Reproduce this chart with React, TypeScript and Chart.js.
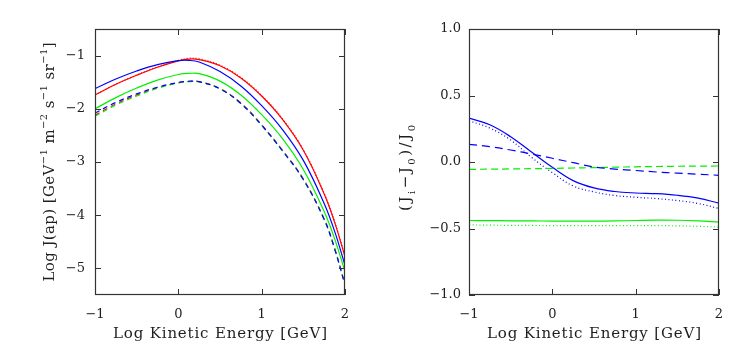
import React, { useEffect, useRef } from 'react';
import { Chart, registerables } from 'chart.js';

Chart.register(...registerables);

// ---------- data: left panel (Log J) ----------
const leftX = [-1, -0.75, -0.5, -0.25, 0, 0.125, 0.25, 0.5, 0.75, 1, 1.25, 1.5, 1.75, 1.875, 2];
const leftRedSolid = [-1.74, -1.54, -1.37, -1.22, -1.1, -1.065, -1.075, -1.19, -1.42, -1.76, -2.2, -2.78, -3.6, -4.13, -4.78];
const leftRedDotted = [-1.74, -1.54, -1.365, -1.21, -1.09, -1.05, -1.06, -1.18, -1.41, -1.75, -2.19, -2.77, -3.59, -4.12, -4.77];
const leftBlueSolid = [-1.62, -1.44, -1.29, -1.17, -1.095, -1.09, -1.12, -1.3, -1.57, -1.94, -2.39, -2.97, -3.78, -4.3, -4.94];
const leftGreenSolid = [-2.0, -1.79, -1.61, -1.46, -1.355, -1.335, -1.34, -1.48, -1.74, -2.11, -2.56, -3.14, -3.93, -4.44, -5.06];
const leftRedDashed = [-2.12, -1.91, -1.74, -1.605, -1.51, -1.485, -1.49, -1.62, -1.89, -2.3, -2.78, -3.32, -4.07, -4.62, -5.3];
const leftBlueDashed = [-2.08, -1.88, -1.72, -1.595, -1.505, -1.482, -1.49, -1.625, -1.9, -2.31, -2.79, -3.33, -4.08, -4.63, -5.31];
const leftGreenDashed = [-2.14, -1.93, -1.76, -1.615, -1.515, -1.49, -1.495, -1.625, -1.9, -2.31, -2.79, -3.33, -4.08, -4.63, -5.31];

// ---------- data: right panel ((Ji-J0)/J0) ----------
const rightX = [-1, -0.75, -0.5, -0.25, 0, 0.25, 0.5, 0.75, 1, 1.25, 1.5, 1.75, 2];
const rightBlueSolid = [0.33, 0.28, 0.19, 0.075, -0.04, -0.14, -0.195, -0.222, -0.233, -0.238, -0.25, -0.272, -0.31];
const rightBlueDotted = [0.31, 0.255, 0.165, 0.035, -0.08, -0.18, -0.225, -0.252, -0.265, -0.275, -0.29, -0.312, -0.35];
const rightBlueDashed = [0.133, 0.115, 0.09, 0.06, 0.028, -0.005, -0.037, -0.053, -0.064, -0.075, -0.084, -0.092, -0.1];
const rightGreenDashed = [-0.055, -0.054, -0.052, -0.05, -0.048, -0.045, -0.042, -0.039, -0.036, -0.034, -0.032, -0.031, -0.03];
const rightGreenSolid = [-0.44, -0.441, -0.442, -0.443, -0.444, -0.445, -0.445, -0.443, -0.44, -0.437, -0.438, -0.443, -0.452];
const rightGreenDotted = [-0.473, -0.475, -0.476, -0.477, -0.478, -0.478, -0.478, -0.478, -0.478, -0.478, -0.48, -0.484, -0.49];

// ---------- ticks ----------
const xTicks = [-1, 0, 1, 2];
const xTickLabels = ['\u22121', '0', '1', '2'];
const leftYTicks = [-5, -4, -3, -2, -1];
const leftYTickLabels = ['\u22125', '\u22124', '\u22123', '\u22122', '\u22121'];
const rightYTicks = [-1, -0.5, 0, 0.5, 1];
const rightYTickLabels = ['\u22121.0', '\u22120.5', '0.0', '0.5', '1.0'];

// ---------- titles ----------
type Seg = { t: string; sup?: boolean; sub?: boolean };
const xTitle: Seg[] = [{ t: 'Log Kinetic Energy [GeV]' }];
const leftYTitle: Seg[] = [
  { t: 'Log J(ap) [GeV' }, { t: '\u22121', sup: true },
  { t: ' m' }, { t: '\u22122', sup: true },
  { t: ' s' }, { t: '\u22121', sup: true },
  { t: ' sr' }, { t: '\u22121', sup: true }, { t: ']' },
];
const rightYTitle: Seg[] = [
  { t: '(J' }, { t: 'i', sub: true }, { t: '\u2212J' }, { t: '0', sub: true },
  { t: ')/J' }, { t: '0', sub: true },
];

const FONT = '"DejaVu Serif", "Liberation Serif", serif';
const INK = '#1e1e1e';
const FRAME = '#333333';
const RED = '#ff0000';
const BLUE = '#0000ff';
const GREEN = '#00f000';

function drawSpaced(ctx: CanvasRenderingContext2D, segs: Seg[], x: number, y: number, rot: number, target: number, size: number) {
  ctx.save();
  ctx.translate(x, y);
  ctx.rotate(rot);
  ctx.textBaseline = 'alphabetic';
  ctx.textAlign = 'left';
  ctx.fillStyle = INK;
  const chars: { ch: string; font: string; w: number; dy: number }[] = [];
  for (const s of segs) {
    const fs = s.sup || s.sub ? Math.round(size * 0.68) : size;
    const dy = s.sup ? -size * 0.45 : s.sub ? size * 0.3 : 0;
    const font = `${fs}px ${FONT}`;
    ctx.font = font;
    for (const ch of s.t) chars.push({ ch, font, w: ctx.measureText(ch).width, dy });
  }
  const natural = chars.reduce((a, c) => a + c.w, 0);
  const gap = chars.length > 1 ? (target - natural) / (chars.length - 1) : 0;
  let cx = -target / 2;
  for (const c of chars) {
    ctx.font = c.font;
    ctx.fillText(c.ch, cx, c.dy);
    cx += c.w + gap;
  }
  ctx.restore();
}

type TitleSpec = { xTitleBase: number; xTitleWidth: number; yTitle: Seg[]; yBaseX: number; yCenter: number; yWidth: number };

function makeFramePlugin(spec: TitleSpec) {
  return {
    id: 'frameTicks',
    afterDraw(chart: any) {
      const { ctx, chartArea: a, scales } = chart;
      ctx.save();
      ctx.strokeStyle = FRAME;
      ctx.lineWidth = 1.2;
      ctx.strokeRect(Math.round(a.left) + 0.5, Math.round(a.top) + 0.5, Math.round(a.right - a.left) - 1, Math.round(a.bottom - a.top) - 1);
      const L = 6;
      ctx.lineWidth = 1;
      ctx.beginPath();
      for (const t of scales.x.ticks) {
        const px = Math.round(scales.x.getPixelForValue(t.value)) + 0.5;
        ctx.moveTo(px, a.bottom); ctx.lineTo(px, a.bottom - L);
        ctx.moveTo(px, a.top); ctx.lineTo(px, a.top + L);
      }
      for (const t of scales.y.ticks) {
        const py = Math.round(scales.y.getPixelForValue(t.value)) + 0.5;
        ctx.moveTo(a.left, py); ctx.lineTo(a.left + L, py);
        ctx.moveTo(a.right, py); ctx.lineTo(a.right - L, py);
      }
      ctx.stroke();
      ctx.restore();
      const cxMid = (a.left + a.right) / 2;
      drawSpaced(ctx, xTitle, cxMid, spec.xTitleBase, 0, spec.xTitleWidth, 15);
      drawSpaced(ctx, spec.yTitle, spec.yBaseX, spec.yCenter, -Math.PI / 2, spec.yWidth, 15);
    },
  };
}

function ds(label: string, xs: number[], ys: number[], color: string, dash: number[], width = 1.2) {
  return {
    label,
    data: xs.map((x, i) => ({ x, y: ys[i] })),
    borderColor: color,
    borderWidth: width,
    borderDash: dash,
    pointRadius: 0,
    fill: false,
    tension: 0.4,
  };
}

function makeOptions(yMin: number, yMax: number, yTicks: number[], yLabels: string[], yPad: number) {
  const tickFont = { family: FONT, size: 13 };
  return {
    animation: false as const,
    responsive: false,
    events: [],
    layout: { padding: { left: 0, right: 28, top: 29, bottom: 0 } },
    plugins: { legend: { display: false }, tooltip: { enabled: false }, title: { display: false } },
    scales: {
      x: {
        type: 'linear' as const,
        min: -1,
        max: 2,
        afterBuildTicks: (s: any) => { s.ticks = xTicks.map((v) => ({ value: v })); },
        afterFit: (s: any) => { s.height = 61; },
        grid: { display: false, drawTicks: false },
        border: { display: false },
        ticks: {
          padding: 12,
          maxRotation: 0,
          autoSkip: false,
          color: INK,
          font: tickFont,
          callback: (_v: any, i: number) => xTickLabels[i],
        },
      },
      y: {
        type: 'linear' as const,
        min: yMin,
        max: yMax,
        afterBuildTicks: (s: any) => { s.ticks = yTicks.map((v) => ({ value: v })); },
        afterFit: (s: any) => { s.width = 95; },
        grid: { display: false, drawTicks: false },
        border: { display: false },
        ticks: {
          padding: yPad,
          autoSkip: false,
          color: INK,
          font: tickFont,
          callback: (_v: any, i: number) => yLabels[i],
        },
      },
    },
  };
}

function Panel({ kind }: { kind: 'left' | 'right' }) {
  const ref = useRef<HTMLCanvasElement | null>(null);
  useEffect(() => {
    if (!ref.current) return;
    let chart: Chart;
    if (kind === 'left') {
      chart = new Chart(ref.current, {
        type: 'line',
        data: {
          datasets: [
            ds('blue dashed', leftX, leftBlueDashed, BLUE, [5, 4]),
            ds('green dashed', leftX, leftGreenDashed, GREEN, [5, 4]),
            ds('red dashed', leftX, leftRedDashed, RED, [5, 4]),
            ds('green', leftX, leftGreenSolid, GREEN, []),
            ds('blue', leftX, leftBlueSolid, BLUE, []),
            ds('red dotted', leftX, leftRedDotted, RED, [1, 2]),
            ds('red', leftX, leftRedSolid, RED, []),
          ],
        },
        options: makeOptions(-5.5, -0.5, leftYTicks, leftYTickLabels, 10) as any,
        plugins: [makeFramePlugin({ xTitleBase: 338, xTitleWidth: 214, yTitle: leftYTitle, yBaseX: 54, yCenter: 162, yWidth: 239 })],
      });
    } else {
      chart = new Chart(ref.current, {
        type: 'line',
        data: {
          datasets: [
            ds('green dotted', rightX, rightGreenDotted, GREEN, [1, 2.5]),
            ds('green', rightX, rightGreenSolid, GREEN, []),
            ds('blue dashed', rightX, rightBlueDashed, BLUE, [8, 5]),
            ds('green dashed', rightX, rightGreenDashed, GREEN, [7, 4]),
            ds('blue dotted', rightX, rightBlueDotted, BLUE, [1, 2.5]),
            ds('blue', rightX, rightBlueSolid, BLUE, []),
          ],
        },
        options: makeOptions(-1, 1, rightYTicks, rightYTickLabels, 8) as any,
        plugins: [makeFramePlugin({ xTitleBase: 338, xTitleWidth: 214, yTitle: rightYTitle, yBaseX: 36, yCenter: 168, yWidth: 86 })],
      });
    }
    return () => chart.destroy();
  }, [kind]);
  return <canvas ref={ref} width={373} height={356} style={{ display: 'block', width: 373, height: 356 }} />;
}

export default function App() {
  return (
    <div style={{ position: 'absolute', left: 0, top: 0, width: 747, height: 356, background: '#ffffff' }}>
      <div style={{ position: 'absolute', left: 0, top: 0 }}>
        <Panel kind="left" />
      </div>
      <div style={{ position: 'absolute', left: 374, top: 0 }}>
        <Panel kind="right" />
      </div>
    </div>
  );
}
